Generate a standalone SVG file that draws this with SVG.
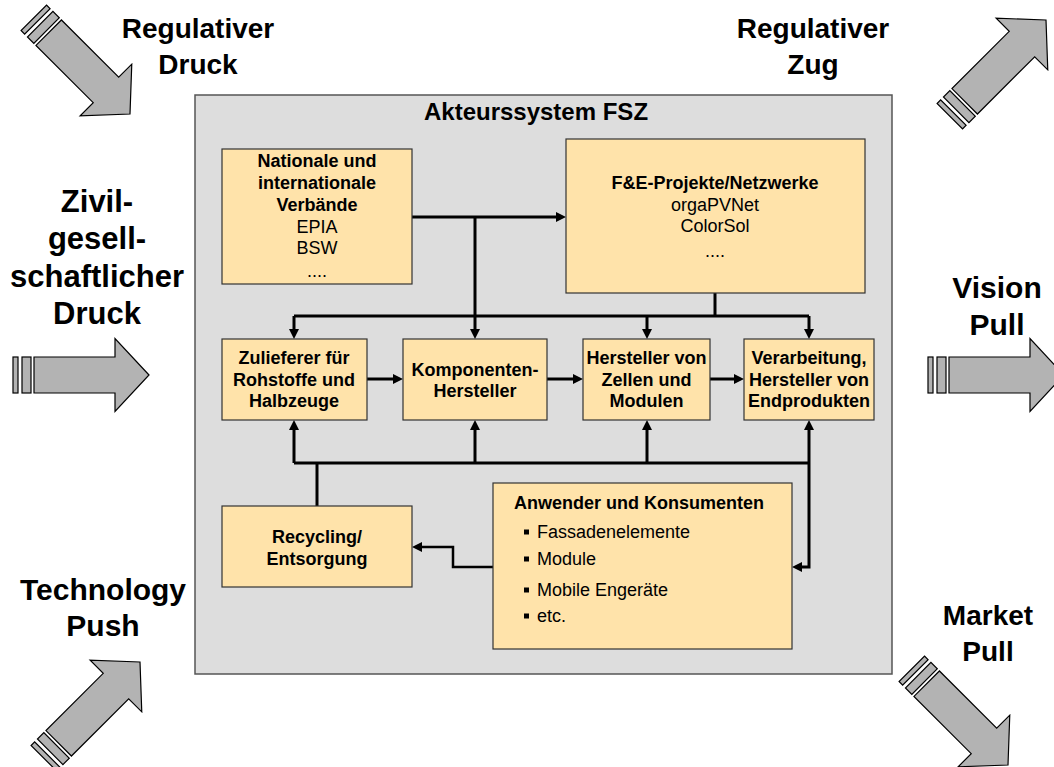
<svg xmlns="http://www.w3.org/2000/svg" xmlns:xlink="http://www.w3.org/1999/xlink" width="1054" height="767" viewBox="0 0 1054 767">
<style>
.lbl{font-family:"Liberation Sans",Arial,sans-serif;font-weight:bold;font-size:28px;fill:#000;text-anchor:middle}
.big{font-size:31px}
.mid{font-size:30px}
.ttl{font-family:"Liberation Sans",Arial,sans-serif;font-weight:bold;font-size:24px;fill:#000;text-anchor:middle}
.b{font-family:"Liberation Sans",Arial,sans-serif;font-weight:bold;font-size:18px;fill:#000;text-anchor:middle}
.r{font-family:"Liberation Sans",Arial,sans-serif;font-size:18px;fill:#000;text-anchor:middle}
.bl{font-family:"Liberation Sans",Arial,sans-serif;font-weight:bold;font-size:18px;fill:#000}
.rl{font-family:"Liberation Sans",Arial,sans-serif;font-size:18px;fill:#000}
.box{fill:#ffe3aa;stroke:#333;stroke-width:1.2}
.conn{fill:none;stroke:#000;stroke-width:3;stroke-linejoin:miter}
.thin{stroke-width:2.5}
.ar{fill:#b3b3b3;stroke:#000;stroke-width:1.2;stroke-linejoin:miter}
</style>
<defs>
<marker id="ah" viewBox="0 0 10 10" refX="3" refY="5" markerWidth="10" markerHeight="10" markerUnits="userSpaceOnUse" orient="auto">
<path d="M0,0 L10,5 L0,10 Z" fill="#000"/>
</marker>
<g id="bigArrow">
<path class="ar" d="M0,0 L-34,-36.5 L-34,-18 L-115,-18 L-115,18 L-34,18 L-34,36.5 Z"/>
<rect class="ar" x="-136" y="-18" width="5" height="36"/>
<rect class="ar" x="-127" y="-18" width="9" height="36"/>
</g>
</defs>
<rect width="1054" height="767" fill="#fff"/>

<g id="forces">
<use xlink:href="#bigArrow" transform="translate(130,114) rotate(45)"/>
<use xlink:href="#bigArrow" transform="translate(1046,20) rotate(-45)"/>
<use xlink:href="#bigArrow" transform="translate(149,375)"/>
<use xlink:href="#bigArrow" transform="translate(1064,375)"/>
<use xlink:href="#bigArrow" transform="translate(140,662) rotate(-45)"/>
<use xlink:href="#bigArrow" transform="translate(1008,765) rotate(45)"/>
<text class="lbl" x="198" y="38">Regulativer</text>
<text class="lbl" x="198" y="74">Druck</text>
<text class="lbl" x="813" y="38">Regulativer</text>
<text class="lbl" x="813" y="74">Zug</text>
<text class="lbl big" x="97" y="212">Zivil-</text>
<text class="lbl big" x="97" y="249">gesell-</text>
<text class="lbl big" x="97" y="287">schaftlicher</text>
<text class="lbl big" x="97" y="324">Druck</text>
<text class="lbl mid" x="997" y="298">Vision</text>
<text class="lbl mid" x="997" y="335">Pull</text>
<text class="lbl mid" x="103" y="600">Technology</text>
<text class="lbl mid" x="103" y="636">Push</text>
<text class="lbl" x="988" y="625">Market</text>
<text class="lbl" x="988" y="661">Pull</text>
</g>

<g id="system">
<rect x="195" y="95" width="697" height="579" fill="#dddddd" stroke="#555" stroke-width="1.5"/>
<text class="ttl" x="536" y="120">Akteurssystem FSZ</text>
</g>

<g id="connectors">
<path class="conn" d="M412,217 H559" marker-end="url(#ah)"/>
<path class="conn" d="M475,217 V332" marker-end="url(#ah)"/>
<path class="conn" d="M715,293 V316"/>
<path class="conn" d="M294,316 H809"/>
<path class="conn" d="M294,316 V332" marker-end="url(#ah)"/>
<path class="conn" d="M647,316 V332" marker-end="url(#ah)"/>
<path class="conn" d="M809,316 V332" marker-end="url(#ah)"/>
<path class="conn" d="M367,379 H396" marker-end="url(#ah)"/>
<path class="conn" d="M547,379 H576" marker-end="url(#ah)"/>
<path class="conn" d="M710,379 H737" marker-end="url(#ah)"/>
<path class="conn" d="M294,463 H809"/>
<path class="conn" d="M294,463 V427" marker-end="url(#ah)"/>
<path class="conn" d="M475,463 V427" marker-end="url(#ah)"/>
<path class="conn" d="M647,463 V427" marker-end="url(#ah)"/>
<path class="conn" d="M809,463 V427" marker-end="url(#ah)"/>
<path class="conn" d="M317,506 V463"/>
<path class="conn" d="M809,463 V567 H799" marker-end="url(#ah)"/>
<path class="conn thin" d="M493,567 H453 V547 H419" marker-end="url(#ah)"/>
</g>

<g id="verbaende">
<rect class="box" x="222" y="149" width="190" height="135"/>
<text class="b" x="317" y="167">Nationale und</text>
<text class="b" x="317" y="189">internationale</text>
<text class="b" x="317" y="211">Verbände</text>
<text class="r" x="317" y="233">EPIA</text>
<text class="r" x="317" y="254">BSW</text>
<text class="r" x="317" y="277">....</text>
</g>

<g id="fue">
<rect class="box" x="566" y="139" width="299" height="154"/>
<text class="b" x="715" y="189">F&amp;E-Projekte/Netzwerke</text>
<text class="r" x="715" y="211">orgaPVNet</text>
<text class="r" x="715" y="232">ColorSol</text>
<text class="r" x="715" y="257">....</text>
</g>

<g id="zulieferer">
<rect class="box" x="222" y="339" width="145" height="81"/>
<text class="b" x="294" y="364">Zulieferer für</text>
<text class="b" x="294" y="385.5">Rohstoffe und</text>
<text class="b" x="294" y="407">Halbzeuge</text>
</g>

<g id="komponenten">
<rect class="box" x="403" y="339" width="144" height="81"/>
<text class="b" x="475" y="375.5">Komponenten-</text>
<text class="b" x="475" y="397">Hersteller</text>
</g>

<g id="zellen">
<rect class="box" x="583" y="339" width="127" height="81"/>
<text class="b" x="646.5" y="364">Hersteller von</text>
<text class="b" x="646.5" y="385.5">Zellen und</text>
<text class="b" x="646.5" y="407">Modulen</text>
</g>

<g id="verarbeitung">
<rect class="box" x="744" y="339" width="130" height="81"/>
<text class="b" x="809" y="364">Verarbeitung,</text>
<text class="b" x="809" y="385.5">Hersteller von</text>
<text class="b" x="809" y="407">Endprodukten</text>
</g>

<g id="recycling">
<rect class="box" x="222" y="506" width="190" height="81"/>
<text class="b" x="317" y="543">Recycling/</text>
<text class="b" x="317" y="564.5">Entsorgung</text>
</g>

<g id="anwender">
<rect class="box" x="493" y="483" width="299" height="166"/>
<text class="bl" x="514" y="509">Anwender und Konsumenten</text>
<rect x="524" y="529.5" width="5" height="5" fill="#000"/>
<text class="rl" x="537" y="538">Fassadenelemente</text>
<rect x="524" y="556.5" width="5" height="5" fill="#000"/>
<text class="rl" x="537" y="565">Module</text>
<rect x="524" y="587.5" width="5" height="5" fill="#000"/>
<text class="rl" x="537" y="596">Mobile Engeräte</text>
<rect x="524" y="613.5" width="5" height="5" fill="#000"/>
<text class="rl" x="537" y="622">etc.</text>
</g>
</svg>
